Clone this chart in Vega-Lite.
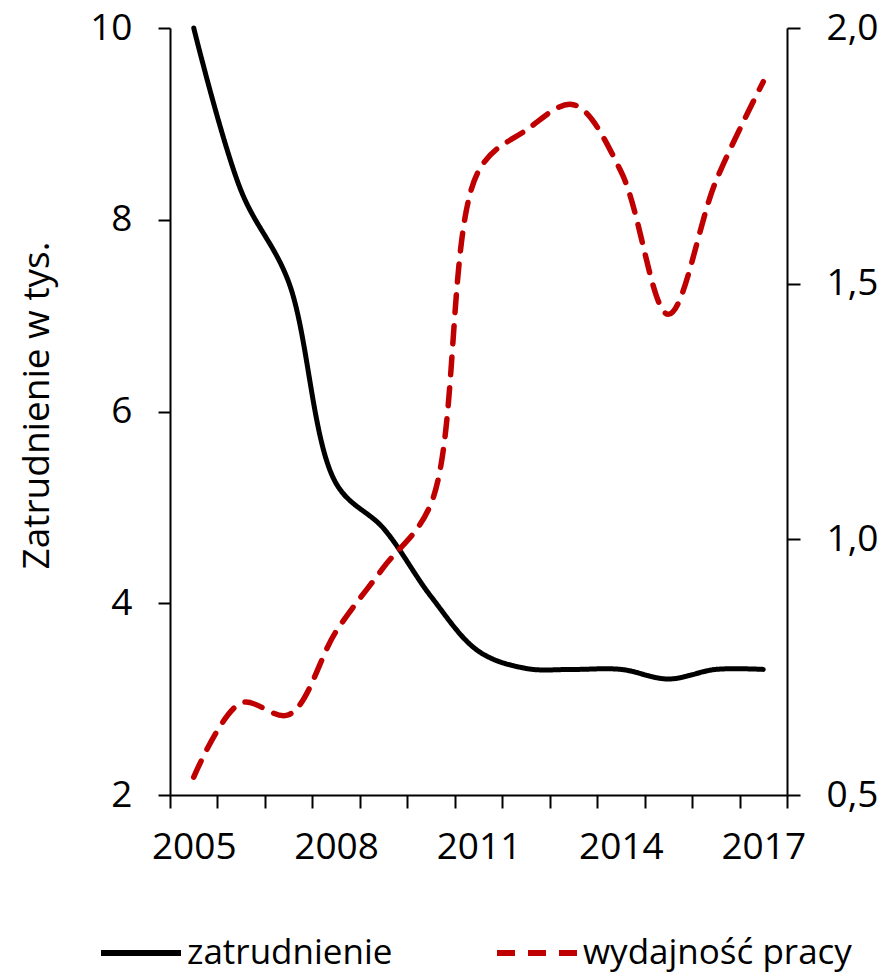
{
  "$schema": "https://vega.github.io/schema/vega-lite/v6.json",
  "autosize": {"type": "none"},
  "padding": {"left": 170, "top": 28, "right": 98, "bottom": 181},
  "width": 617,
  "height": 767,
  "background": "white",
  "config": {
    "font": "Open Sans",
    "view": {"stroke": null},
    "axis": {
      "domainColor": "black", "domainWidth": 2, "tickColor": "black", "tickWidth": 2,
      "labelColor": "black", "labelFont": "Open Sans", "labelFontSize": 37,
      "titleFont": "Open Sans", "titleFontWeight": "normal", "titleColor": "black", "grid": false
    },
    "legend": {"labelFont": "Open Sans", "labelFontSize": 35, "labelColor": "black", "labelLimit": 500}
  },
  "data": {
    "values": [
      {"year": 2005, "series": "zatrudnienie", "value": 10.0},
      {"year": 2006, "series": "zatrudnienie", "value": 8.3},
      {"year": 2007, "series": "zatrudnienie", "value": 7.35},
      {"year": 2008, "series": "zatrudnienie", "value": 5.25},
      {"year": 2009, "series": "zatrudnienie", "value": 4.78},
      {"year": 2010, "series": "zatrudnienie", "value": 4.07},
      {"year": 2011, "series": "zatrudnienie", "value": 3.5},
      {"year": 2012, "series": "zatrudnienie", "value": 3.32},
      {"year": 2013, "series": "zatrudnienie", "value": 3.31},
      {"year": 2014, "series": "zatrudnienie", "value": 3.31},
      {"year": 2015, "series": "zatrudnienie", "value": 3.21},
      {"year": 2016, "series": "zatrudnienie", "value": 3.31},
      {"year": 2017, "series": "zatrudnienie", "value": 3.31},
      {"year": 2005, "series": "wydajność pracy", "value": 0.535},
      {"year": 2006, "series": "wydajność pracy", "value": 0.68},
      {"year": 2007, "series": "wydajność pracy", "value": 0.657},
      {"year": 2008, "series": "wydajność pracy", "value": 0.82},
      {"year": 2009, "series": "wydajność pracy", "value": 0.945},
      {"year": 2010, "series": "wydajność pracy", "value": 1.07},
      {"year": 2011, "series": "wydajność pracy", "value": 1.72},
      {"year": 2012, "series": "wydajność pracy", "value": 1.8},
      {"year": 2013, "series": "wydajność pracy", "value": 1.85},
      {"year": 2014, "series": "wydajność pracy", "value": 1.72},
      {"year": 2015, "series": "wydajność pracy", "value": 1.44},
      {"year": 2016, "series": "wydajność pracy", "value": 1.7},
      {"year": 2017, "series": "wydajność pracy", "value": 1.895}
    ]
  },
  "encoding": {
    "x": {
      "field": "year", "type": "ordinal", "bandPosition": 0.5,
      "scale": {"type": "band", "paddingInner": 0, "paddingOuter": 0},
      "axis": {
        "title": null, "labelAngle": 0, "tickBand": "extent", "tickSize": 13,
        "labelPadding": 21,
        "labelExpr": "(datum.value - 2005) % 3 == 0 ? datum.label : ''"
      }
    },
    "color": {
      "field": "series", "type": "nominal",
      "scale": {"domain": ["zatrudnienie", "wydajność pracy"], "range": ["#000000", "#C00000"]},
      "legend": {
        "title": null, "orient": "none", "direction": "horizontal",
        "legendX": -72, "legendY": 882,
        "symbolType": "stroke", "symbolSize": 6400, "symbolStrokeWidth": 6,
        "labelOffset": 3, "columnPadding": 92
      }
    },
    "strokeDash": {
      "field": "series", "type": "nominal",
      "scale": {"domain": ["zatrudnienie", "wydajność pracy"], "range": [[1, 0], [18, 13]]},
      "legend": {
        "title": null, "orient": "none", "direction": "horizontal",
        "legendX": -72, "legendY": 882,
        "symbolType": "stroke", "symbolSize": 6400, "symbolStrokeWidth": 6,
        "labelOffset": 3, "columnPadding": 92
      }
    }
  },
  "layer": [
    {
      "transform": [{"filter": "datum.series == 'zatrudnienie'"}],
      "mark": {"type": "line", "interpolate": "catmull-rom", "strokeWidth": 5, "strokeCap": "round"},
      "encoding": {
        "y": {
          "field": "value", "type": "quantitative",
          "scale": {"domain": [2, 10], "nice": false, "zero": false},
          "axis": {
            "orient": "left", "values": [2, 4, 6, 8, 10], "tickSize": 12, "labelPadding": 26,
            "title": "Zatrudnienie w tys.", "titleFontSize": 37,
            "titleX": -133, "titleY": 377, "titleAngle": -90, "titleBaseline": "middle", "titleAlign": "center"
          }
        }
      }
    },
    {
      "transform": [{"filter": "datum.series == 'wydajność pracy'"}],
      "mark": {"type": "line", "interpolate": "catmull-rom", "strokeWidth": 5.5, "strokeCap": "round"},
      "encoding": {
        "y": {
          "field": "value", "type": "quantitative",
          "scale": {"domain": [0.5, 2.0], "nice": false, "zero": false},
          "axis": {
            "orient": "right", "values": [0.5, 1, 1.5, 2], "tickSize": 13, "labelPadding": 26,
            "title": null,
            "labelExpr": "replace(format(datum.value, '.1f'), '.', ',')"
          }
        }
      }
    }
  ],
  "resolve": {"scale": {"y": "independent"}}
}
